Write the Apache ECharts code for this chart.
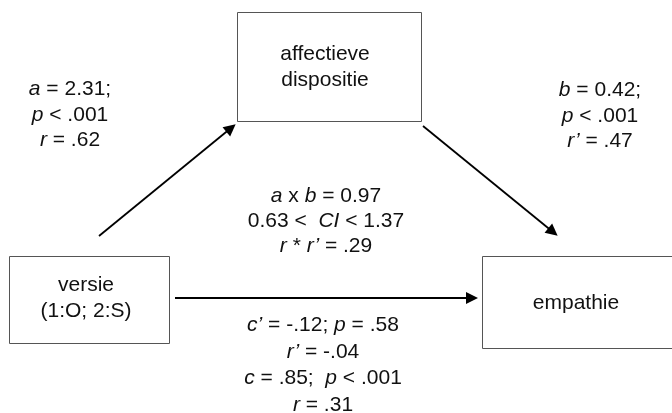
<!DOCTYPE html>
<html>
<head>
<meta charset="utf-8">
<script src="https://cdn.jsdelivr.net/npm/echarts@6/dist/echarts.min.js"></script>
<style>
html,body{margin:0;padding:0;background:#fff;}
#chart{width:672px;height:413px;}
</style>
</head>
<body>
<div id="chart"></div>
<script>
// ---- diagram content ----
const nodeNames = ['affectieve\ndispositie', 'versie\n(1:O; 2:S)', 'empathie'];
const pathA = ['{i|a} = 2.31;', '{i|p} < .001', '{i|r} = .62'];
const pathB = ['{i|b} = 0.42;', '{i|p} < .001', '{i|r’} = .47'];
const indirect = ['{i|a} x {i|b} = 0.97', '0.63 <  {i|CI} < 1.37', '{i|r} * {i|r’} = .29'];
const direct = ['{i|c’} = -.12; {i|p} = .58', '{i|r’} = -.04', '{i|c} = .85;  {i|p} < .001', '{i|r} = .31'];
const edges = [['versie', 'affectieve dispositie'], ['affectieve dispositie', 'empathie'], ['versie', 'empathie']];

// ---- layout (pixel space of the hidden axes) ----
const layout = {
  boxes: [[237, 12, 421, 121], [9, 256, 169, 343], [482, 256, 690, 348]],
  nodeText: [[325, 67], [86, 298], [576, 303]],
  arrows: [[[99, 236], [231, 128]], [[423, 126], [553, 232]], [[175, 298], [472, 298]]],
  blocks: [[70, 115, 25.5], [600, 116, 25.5], [326, 221, 25], [323, 365, 26.5]]
};

const FONT = '"Liberation Sans", Arial, Helvetica, sans-serif';
const FS = 21;
const textBlocks = [pathA, pathB, indirect, direct];

const chart = echarts.init(document.getElementById('chart'), null, {renderer: 'canvas'});

const boxData = layout.boxes.map(b => b.slice());
const arrowData = layout.arrows.map((a, i) => ({name: edges[i].join(' → '), coords: a}));
const labelData = [];
nodeNames.forEach((n, i) => labelData.push({value: [layout.nodeText[i][0], layout.nodeText[i][1]], text: n, lh: 26}));
textBlocks.forEach((t, i) => labelData.push({value: [layout.blocks[i][0], layout.blocks[i][1]], text: t.join('\n'), lh: layout.blocks[i][2]}));

const option = {
  animation: false,
  backgroundColor: '#fff',
  grid: {left: 0, right: 0, top: 0, bottom: 0},
  xAxis: {type: 'value', min: 0, max: 672, show: false},
  yAxis: {type: 'value', min: 0, max: 413, inverse: true, show: false},
  series: [
    {
      type: 'custom',
      coordinateSystem: 'cartesian2d',
      encode: {x: [0, 2], y: [1, 3]},
      data: boxData,
      clip: false,
      renderItem: function (params, api) {
        const p0 = api.coord([api.value(0), api.value(1)]);
        const p1 = api.coord([api.value(2), api.value(3)]);
        return {
          type: 'rect',
          shape: {x: Math.round(p0[0]) + 0.5, y: Math.round(p0[1]) + 0.5, width: Math.round(p1[0] - p0[0]), height: Math.round(p1[1] - p0[1])},
          style: {fill: 'none', stroke: '#555', lineWidth: 1}
        };
      }
    },
    {
      type: 'lines',
      coordinateSystem: 'cartesian2d',
      symbol: ['none', 'triangle'],
      symbolSize: [11, 12],
      lineStyle: {color: '#000', width: 1.8, opacity: 1, curveness: 0},
      data: arrowData
    },
    {
      type: 'custom',
      coordinateSystem: 'cartesian2d',
      data: labelData,
      clip: false,
      renderItem: function (params, api) {
        const d = labelData[params.dataIndex];
        const p = api.coord([api.value(0), api.value(1)]);
        return {
          type: 'text',
          x: p[0], y: p[1],
          style: {
            text: d.text,
            fill: '#111',
            fontSize: FS,
            fontFamily: FONT,
            lineHeight: d.lh,
            align: 'center',
            verticalAlign: 'middle',
            rich: {
              i: {fontStyle: 'italic', fontSize: FS, fontFamily: FONT, fill: '#111', lineHeight: d.lh}
            }
          }
        };
      }
    }
  ]
};
chart.setOption(option);
</script>
</body>
</html>
